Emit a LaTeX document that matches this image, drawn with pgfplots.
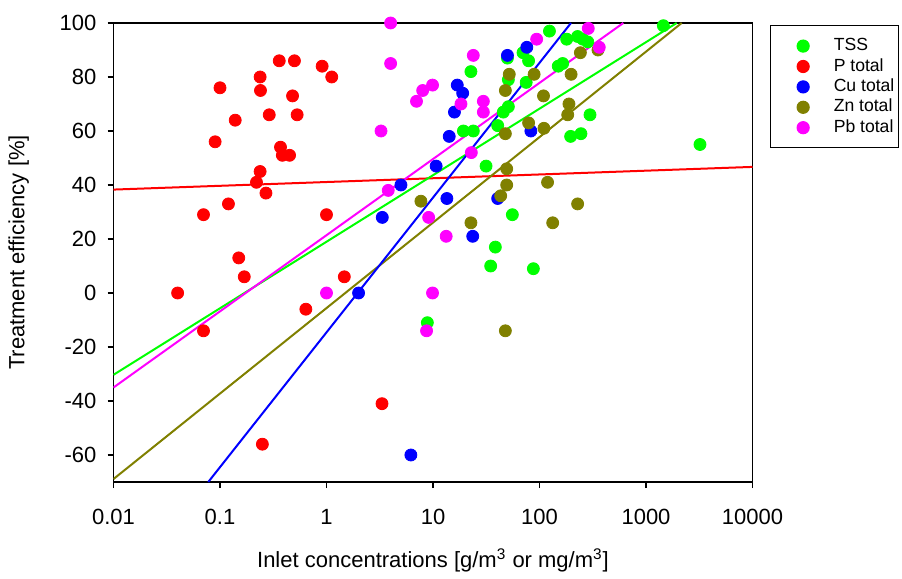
\documentclass[border=0pt]{standalone}
\usepackage{pgfplots}
\pgfplotsset{compat=1.18}
\usepackage{fontspec}
\setmainfont{Liberation Sans}

\definecolor{cTSS}{RGB}{0,255,0}
\definecolor{cP}{RGB}{255,0,0}
\definecolor{cCu}{RGB}{0,0,255}
\definecolor{cZn}{RGB}{128,128,0}
\definecolor{cPb}{RGB}{255,0,255}

\begin{document}
\begin{tikzpicture}
\begin{axis}[
    scale only axis,
    width=319.5pt, height=229.5pt,
    xmode=log,
    xmin=0.01, xmax=10000,
    ymin=-70, ymax=100,
    xtick={0.01,0.1,1,10,100,1000,10000},
    xticklabels={0.01,0.1,1,10,100,1000,10000},
    ytick={-60,-40,...,100},
    xminorticks=false,
    yminorticks=false,
    tick pos=left,
    tick align=outside,
    major tick length=3pt,
    axis line style={line width=0.8pt},
    every tick/.style={black, line width=0.6pt},
    /pgf/number format/assume math mode=true,
    tick label style={font=\fontsize{11}{13}\selectfont},
    xticklabel style={yshift=-7pt},
    yticklabel style={xshift=-2pt},
    label style={font=\fontsize{11}{13}\selectfont},
    xlabel={Inlet concentrations [g/m\textsuperscript{3} or mg/m\textsuperscript{3}]},
    ylabel={Treatment efficiency [\%]},
    xlabel style={yshift=-5pt},
    ylabel style={yshift=8.5pt},
    legend cell align=left,
    legend style={at={(1.027,0.995)}, anchor=north west,
        draw=black, line width=0.6pt,
        font=\fontsize{8.8}{10}\selectfont,
        inner xsep=1.5pt, inner ysep=5pt, row sep=0pt,
        nodes={inner sep=0.6pt, text height=6.8pt, text depth=2.2pt}},
    legend image code/.code={
        \path (0pt,0pt) (29pt,0pt);
        \draw[mark repeat=2,mark phase=2,#1] plot coordinates {(10pt,0pt) (14.6pt,0pt) (19pt,0pt)};
    },
    every axis plot/.append style={mark size=3pt},
]

% regression lines
\addplot[cP, line width=1pt, forget plot] coordinates {(0.01,38.3) (10000,46.7)};
\addplot[cTSS, line width=1pt, forget plot] coordinates {(0.01,-30.3) (1941,100)};
\addplot[cPb, line width=1pt, forget plot] coordinates {(0.01,-35) (612,100)};
\addplot[cZn, line width=1pt, forget plot] coordinates {(0.01,-68.9) (2163,100)};
\addplot[cCu, line width=1pt, forget plot] coordinates {(0.0776,-70) (197.6,100)};

% TSS
\addplot[only marks, mark=*, draw=cTSS, fill=cTSS] coordinates {
(124,97) (1455,99) (180,94) (228,95) (255,94) (284,93) (70,89) (79,86)
(22.7,82) (50,87) (51,79) (75,78) (150,84) (165,85) (298,66) (196,58)
(245,59) (3213,55) (19.3,60) (23.9,60) (40.5,62) (45.7,67) (51,69)
(31.5,47) (55.6,29) (38.5,17) (34.8,10) (87.6,9) (8.85,-11)};
\addlegendentry{TSS}

% P total
\addplot[only marks, mark=*, draw=cP, fill=cP] coordinates {
(0.1,76) (0.09,56) (0.139,64) (0.07,29) (0.12,33) (0.238,80) (0.24,75)
(0.36,86) (0.5,86) (0.48,73) (0.29,66) (0.53,66) (0.91,84) (1.12,80)
(0.37,54) (0.385,51) (0.45,51) (0.238,45) (0.22,41) (0.27,37) (1.0,29)
(0.04,0) (0.07,-14) (0.15,13) (0.169,6) (1.47,6) (0.64,-6) (3.32,-41)
(0.25,-56)};
\addlegendentry{P total}

% Cu total
\addplot[only marks, mark=*, draw=cCu, fill=cCu] coordinates {
(5,40) (3.34,28) (2,0) (6.2,-60) (50,88) (16.9,77) (19,74) (15.9,67)
(76,91) (14.2,58) (10.7,47) (13.5,35) (23.6,21) (40.5,35) (83,60)};
\addlegendentry{Cu total}

% Zn total
\addplot[only marks, mark=*, draw=cZn, fill=cZn] coordinates {
(52,81) (47.8,75) (89,81) (198,81) (109,73) (242,89) (354,90) (189,70)
(184,66) (79,63) (110,61) (47.8,59) (49.2,46) (49.2,40) (119,41)
(43.2,36) (7.7,34) (228,33) (22.7,26) (133,26) (47.8,-14)};
\addlegendentry{Zn total}

% Pb total
\addplot[only marks, mark=*, draw=cPb, fill=cPb] coordinates {
(4,100) (4,85) (3.25,60) (8,75) (7,71) (3.8,38) (9.1,28) (23.9,88)
(9.9,77) (18.3,70) (29.7,71) (29.7,67) (94,94) (287,98) (364,91)
(22.9,52) (13.3,21) (9.9,0) (8.7,-14) (1.0,0)};
\addlegendentry{Pb total}

\end{axis}
\path[use as bounding box]
  ([shift={(-56.75pt,-46.5pt)}]current axis.south west)
  rectangle ([shift={(74.75pt,11.5pt)}]current axis.north east);
\end{tikzpicture}
\end{document}
